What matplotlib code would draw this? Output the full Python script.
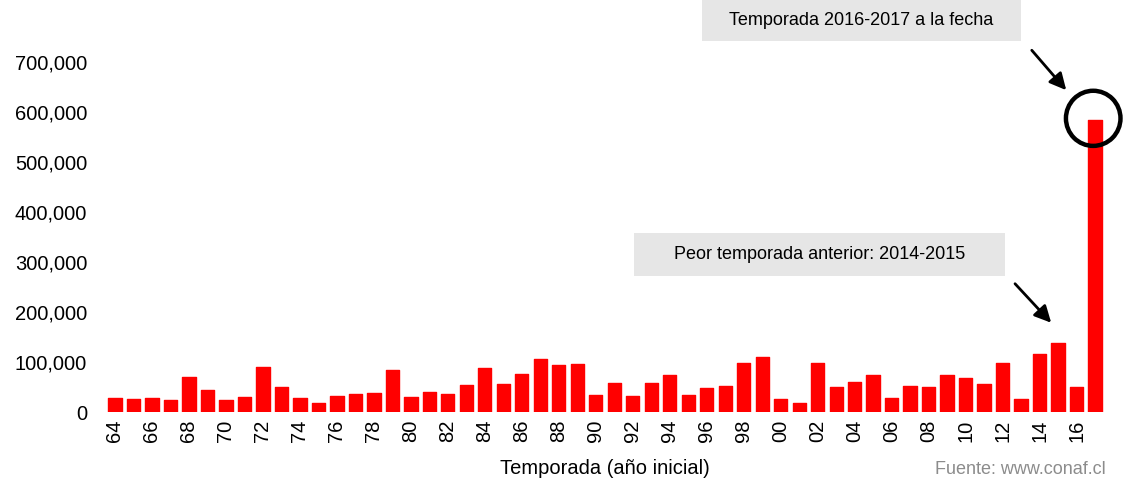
import matplotlib.pyplot as plt
from matplotlib.patches import Rectangle, Ellipse
from matplotlib.ticker import FuncFormatter

plt.rcParams['font.family'] = ['Liberation Sans', 'DejaVu Sans']

# temporadas (año inicial, dos dígitos) y superficie afectada (ha)
years = ["64", "65", "66", "67", "68", "69", "70", "71", "72", "73",
         "74", "75", "76", "77", "78", "79", "80", "81", "82", "83",
         "84", "85", "86", "87", "88", "89", "90", "91", "92", "93",
         "94", "95", "96", "97", "98", "99", "00", "01", "02", "03",
         "04", "05", "06", "07", "08", "09", "10", "11", "12", "13",
         "14", "15", "16", "17"]
hectares = [28000, 26000, 28000, 25000, 70000, 44000, 25600, 31600, 91000, 51600,
            28000, 19000, 33000, 37000, 39600, 85000, 31000, 41000, 36400, 55000,
            89000, 57000, 77000, 106000, 95000, 97000, 35000, 59000, 33000, 58000,
            75000, 35000, 49000, 52000, 99600, 110000, 26000, 19600, 99000, 51000,
            60000, 75000, 28000, 53000, 51000, 75000, 68000, 57000, 99000, 26000,
            116000, 138000, 51000, 584000]
# se rotula uno de cada dos años
tick_labels = years[::2]

W, H = 1123, 483
fig = plt.figure(figsize=(W / 100, H / 100), dpi=100)
ax = fig.add_axes([0.0925, 0.146, 0.8925, 0.830])

x = range(len(hectares))
ax.bar(x, hectares, width=0.72, color="#ff0000", edgecolor="#ff0000",
       linewidth=1.0, joinstyle="round")

ax.set_xlim(-0.6, len(hectares) - 0.4)
ax.set_ylim(0, 800000)
ax.set_yticks(range(0, 800000, 100000))
ax.yaxis.set_major_formatter(FuncFormatter(lambda v, p: f"{int(v):,}"))
ax.set_xticks(list(x)[::2])
ax.set_xticklabels(tick_labels, rotation=90)
ax.tick_params(axis="y", length=0, pad=12, labelsize=14.5)
ax.tick_params(axis="x", length=0, pad=5, labelsize=14.5)
for s in ax.spines.values():
    s.set_visible(False)

ax.set_xlabel("Temporada (año inicial)", fontsize=14.5, labelpad=12)
fig.text(1020 / W, 1 - 470 / H, "Fuente: www.conaf.cl", fontsize=13,
         color="#8c8c8c", ha="center", va="center")


def box(x0, y0, x1, y1, txt):
    fig.add_artist(Rectangle((x0 / W, 1 - y1 / H), (x1 - x0) / W, (y1 - y0) / H,
                             transform=fig.transFigure, facecolor="#e6e6e6",
                             edgecolor="none"))
    fig.text((x0 + x1) / 2 / W, 1 - (y0 + y1) / 2 / H, txt, fontsize=13,
             ha="center", va="center")


box(702, 0, 1021, 41, "Temporada 2016-2017 a la fecha")
box(634, 233, 1005, 276, "Peor temporada anterior: 2014-2015")

arrow = dict(arrowstyle="-|>,head_length=1.0,head_width=0.5", color="black", lw=2)
ax.annotate("", xy=(51.54, 639000), xytext=(49.48, 727000), arrowprops=arrow,
            annotation_clip=False)
ax.annotate("", xy=(50.73, 175000), xytext=(48.57, 261000), arrowprops=arrow)

ax.add_patch(Ellipse((52.9, 587000), 2.95, 110000, fill=False,
                     edgecolor="black", linewidth=3.2, clip_on=False))

fig.savefig("out.png", dpi=100)
